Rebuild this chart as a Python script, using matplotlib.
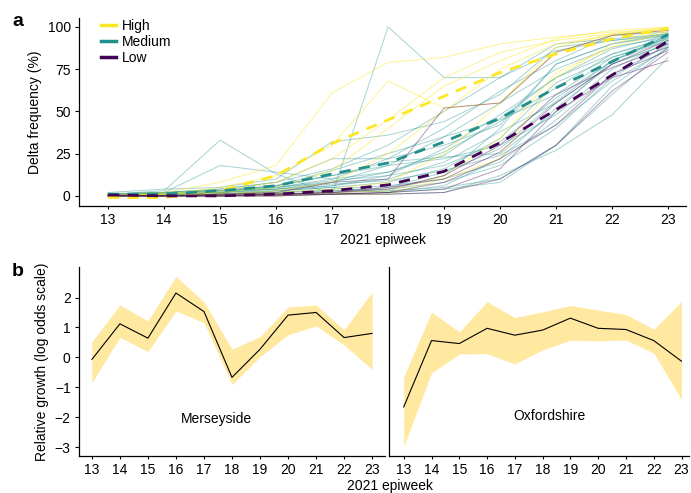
import matplotlib
matplotlib.use("Agg")
import matplotlib.pyplot as plt
from matplotlib.lines import Line2D

plt.rcParams['font.family'] = ['Liberation Sans', 'DejaVu Sans']

weeks = list(range(13, 24))

# ---- Panel a: individual area curves (Delta frequency, %) ----
high_lines = [
    [1, 2, 8, 18, 61, 79, 82, 90, 94, 97, 99],
    [0, 1, 5, 12, 30, 68, 52, 55, 88, 96, 98],
    [0, 1, 3, 8, 22, 45, 70, 85, 92, 96, 100],
    [0, 0, 1, 3, 8, 25, 50, 75, 90, 95, 99],
    [0, 0, 0, 1, 2, 3, 12, 34, 73, 88, 97],
    [0, 0, 1, 2, 4, 8, 25, 55, 85, 95, 99],
    [0, 1, 2, 5, 15, 40, 65, 80, 93, 98, 100],
    [0, 0, 0, 0, 1, 1, 10, 22, 70, 90, 98],
]
medium_lines = [
    [1, 3, 33, 13, 1, 100, 70, 70, 90, 93, 96],
    [1, 2, 18, 14, 10, 22, 30, 42, 78, 90, 95],
    [2, 4, 5, 10, 32, 36, 44, 60, 88, 92, 95],
    [1, 2, 4, 8, 22, 22, 40, 62, 80, 95, 97],
    [1, 1, 3, 6, 12, 20, 23, 25, 50, 80, 95],
    [0, 1, 2, 5, 10, 14, 24, 46, 70, 84, 93],
    [0, 1, 1, 3, 5, 8, 16, 34, 67, 82, 92],
    [0, 0, 1, 2, 3, 5, 14, 28, 56, 80, 94],
    [0, 0, 0, 1, 1, 2, 6, 22, 52, 78, 90],
    [0, 0, 0, 0, 1, 1, 2, 12, 27, 48, 82],
    [1, 1, 2, 4, 6, 10, 20, 38, 55, 78, 90],
    [0, 1, 2, 4, 8, 18, 35, 55, 75, 88, 94],
    [0, 1, 1, 3, 6, 12, 28, 48, 70, 87, 95],
    [1, 2, 3, 6, 15, 25, 35, 45, 60, 82, 93],
    [0, 0, 1, 2, 3, 4, 8, 18, 40, 70, 90],
    [0, 0, 1, 1, 2, 3, 5, 10, 30, 65, 88],
    [1, 2, 4, 8, 16, 30, 50, 70, 86, 92, 96],
    [0, 1, 3, 6, 12, 18, 22, 30, 48, 75, 91],
    [0, 0, 1, 2, 4, 6, 10, 20, 45, 72, 89],
    [1, 2, 3, 5, 8, 14, 26, 44, 64, 84, 94],
    [0, 1, 2, 3, 5, 2, 4, 8, 30, 60, 88],
    [1, 1, 2, 5, 9, 12, 18, 32, 58, 80, 92],
    [0, 0, 0, 1, 2, 3, 12, 40, 78, 90, 96],
    [1, 2, 3, 4, 7, 9, 15, 24, 42, 68, 87],
]
low_lines = [
    [0, 0, 1, 2, 8, 10, 52, 55, 85, 95, 98],
    [0, 0, 0, 1, 2, 4, 12, 30, 60, 76, 88],
    [0, 0, 0, 0, 1, 2, 8, 22, 42, 72, 86],
    [0, 0, 0, 0, 1, 1, 2, 10, 30, 62, 85],
    [0, 0, 0, 1, 1, 2, 4, 16, 50, 70, 80],
    [0, 0, 1, 1, 2, 5, 10, 26, 55, 78, 92],
]
high_mean = [-1, -1, 3, 12, 31, 45, 59, 73, 84, 93, 99]
medium_mean = [1, 1, 3, 6, 13, 19.5, 32, 46, 64, 79.5, 95.5]
low_mean = [0.5, 0, 0, 1, 3, 6.5, 14.5, 31.5, 51, 71.5, 91.5]

# ---- Panel b: relative growth ----
mers_mean = [-0.07, 1.12, 0.64, 2.15, 1.53, -0.67, 0.27, 1.41, 1.50, 0.66, 0.80]
mers_hi = [0.52, 1.75, 1.22, 2.71, 1.85, 0.27, 0.69, 1.68, 1.75, 0.92, 2.18]
mers_lo = [-0.85, 0.67, 0.19, 1.55, 1.16, -0.91, 0.02, 0.75, 1.05, 0.41, -0.40]
oxf_mean = [-1.66, 0.56, 0.46, 0.97, 0.74, 0.91, 1.31, 0.97, 0.93, 0.56, -0.13]
oxf_hi = [-0.65, 1.51, 0.85, 1.86, 1.33, 1.52, 1.73, 1.58, 1.43, 0.94, 1.87]
oxf_lo = [-2.98, -0.52, 0.11, 0.12, -0.22, 0.25, 0.57, 0.55, 0.58, 0.14, -1.41]

C_HIGH = '#FDE725'
C_MED = '#21908C'
C_LOW = '#440154'
BAND = '#FFE8A0'

W, H = 691, 493
fig = plt.figure(figsize=(W / 100, H / 100), dpi=100)

def rect(l, t, r, b):
    return [l / W, 1 - b / H, (r - l) / W, (b - t) / H]

FS = 10

# Panel a
ax = fig.add_axes(rect(79, 18, 686, 206))
for s in medium_lines:
    ax.plot(weeks, s, color=C_MED, lw=0.7, alpha=0.4, zorder=2)
for s in high_lines:
    ax.plot(weeks, s, color=C_HIGH, lw=0.7, alpha=0.5, zorder=2)
for s in low_lines:
    ax.plot(weeks, s, color=C_LOW, lw=0.7, alpha=0.4, zorder=2)
ax.plot(weeks, high_mean, color=C_HIGH, lw=2.0, ls=(0, (4, 3)), zorder=4)
ax.plot(weeks, medium_mean, color=C_MED, lw=2.0, ls=(0, (4, 3)), zorder=4)
ax.plot(weeks, low_mean, color=C_LOW, lw=2.0, ls=(0, (4, 3)), zorder=4)
ax.set_xlim(12.48, 23.32)
ax.set_ylim(-6, 105.3)
ax.set_xticks(weeks)
ax.set_yticks([0, 25, 50, 75, 100])
ax.set_xlabel('2021 epiweek', fontsize=FS, labelpad=4)
ax.set_ylabel('Delta frequency (%)', fontsize=FS)
handles = [Line2D([], [], color=C_HIGH, lw=2.5),
           Line2D([], [], color=C_MED, lw=2.5),
           Line2D([], [], color=C_LOW, lw=2.5)]
ax.legend(handles, ['High', 'Medium', 'Low'], loc='upper left',
          bbox_to_anchor=(0.02, 1.045), frameon=False, fontsize=FS,
          handlelength=1.1, handletextpad=0.4, labelspacing=0.12,
          borderpad=0.2)

# Panel b left
bl = fig.add_axes(rect(79, 267, 385, 456))
bl.fill_between(weeks, mers_lo, mers_hi, color=BAND, lw=0, zorder=1)
bl.plot(weeks, mers_mean, color='black', lw=0.8, zorder=3)
bl.set_xlim(12.54, 23.46)
bl.set_ylim(-3.3, 3.02)
bl.set_xticks(weeks)
bl.set_yticks([-3, -2, -1, 0, 1, 2])
bl.set_yticklabels(['\u22123', '\u22122', '\u22121', '0', '1', '2'])
bl.set_ylabel('Relative growth (log odds scale)', fontsize=FS)
bl.text(17.45, -2.07, 'Merseyside', fontsize=FS, ha='center', va='center')

# Panel b right
br = fig.add_axes(rect(389, 267, 689, 456))
br.fill_between(weeks, oxf_lo, oxf_hi, color=BAND, lw=0, zorder=1)
br.plot(weeks, oxf_mean, color='black', lw=0.8, zorder=3)
br.set_xlim(12.47, 23.27)
br.set_ylim(-3.3, 3.02)
br.set_xticks(weeks)
br.set_yticks([])
br.text(18.25, -1.97, 'Oxfordshire', fontsize=FS, ha='center', va='center')

for a in (ax, bl, br):
    for sp in ('top', 'right'):
        a.spines[sp].set_visible(False)
    for sp in ('left', 'bottom'):
        a.spines[sp].set_linewidth(0.9)
    a.tick_params(labelsize=FS, length=3, width=0.8, pad=3)
br.tick_params(axis='y', length=0)
for a in (ax, bl, br):
    a.tick_params(axis='x', length=2)

fig.text(390 / W, 1 - 486 / H, '2021 epiweek', fontsize=FS, ha='center', va='center')
fig.text(18 / W, 1 - 22 / H, 'a', fontsize=14, fontweight='bold', ha='center', va='center')
fig.text(18 / W, 1 - 272 / H, 'b', fontsize=14, fontweight='bold', ha='center', va='center')

fig.savefig('out.png', dpi=100)
